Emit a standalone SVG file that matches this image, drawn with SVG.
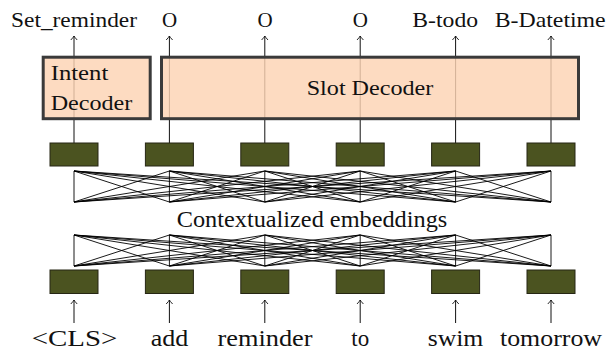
<svg xmlns="http://www.w3.org/2000/svg" width="609" height="351" viewBox="0 0 609 351">
<defs>
<style>
text{font-family:"Liberation Serif",serif;fill:#111;}
.top{font-size:21px;text-anchor:middle;}
.bot{font-size:23px;text-anchor:middle;}
.mid{font-size:23px;text-anchor:middle;}
.dec{font-size:21px;}
.emb{fill:#4b5320;stroke:#262614;stroke-width:1;}
.decbox{fill:#fdd3b3;fill-opacity:0.82;stroke:#3a3a3a;stroke-width:3;}
.arr{stroke:#111;stroke-width:1;fill:none;marker-end:url(#ah);}
.x line{stroke:#000;stroke-width:0.9;}
</style>
<marker id="ah" markerUnits="userSpaceOnUse" markerWidth="10" markerHeight="10" viewBox="-5 -5 10 10" refX="0" refY="0" orient="auto">
<path d="M-4,-3.2 Q-1.2,-0.6 0,0 Q-1.2,0.6 -4,3.2" fill="none" stroke="#111" stroke-width="0.9"/>
</marker>
</defs>
<rect width="609" height="351" fill="#fff"/>

<g id="connectors">
<g class="arrows-up">
<line class="arr" x1="74" y1="143" x2="74" y2="36"/>
<line class="arr" x1="169.4" y1="143" x2="169.4" y2="36"/>
<line class="arr" x1="264.8" y1="143" x2="264.8" y2="36"/>
<line class="arr" x1="360.2" y1="143" x2="360.2" y2="36"/>
<line class="arr" x1="455.6" y1="143" x2="455.6" y2="36"/>
<line class="arr" x1="551" y1="143" x2="551" y2="36"/>
<line class="arr" x1="74" y1="323" x2="74" y2="300"/>
<line class="arr" x1="169.4" y1="323" x2="169.4" y2="300"/>
<line class="arr" x1="264.8" y1="323" x2="264.8" y2="300"/>
<line class="arr" x1="360.2" y1="323" x2="360.2" y2="300"/>
<line class="arr" x1="455.6" y1="323" x2="455.6" y2="300"/>
<line class="arr" x1="551" y1="323" x2="551" y2="300"/>
</g>
<g class="x" id="cross-top">
<line x1="74" y1="171" x2="74" y2="202"/><line x1="74" y1="171" x2="169.4" y2="202"/><line x1="74" y1="171" x2="264.8" y2="202"/><line x1="74" y1="171" x2="360.2" y2="202"/><line x1="74" y1="171" x2="455.6" y2="202"/><line x1="74" y1="171" x2="551" y2="202"/>
<line x1="169.4" y1="171" x2="74" y2="202"/><line x1="169.4" y1="171" x2="169.4" y2="202"/><line x1="169.4" y1="171" x2="264.8" y2="202"/><line x1="169.4" y1="171" x2="360.2" y2="202"/><line x1="169.4" y1="171" x2="455.6" y2="202"/><line x1="169.4" y1="171" x2="551" y2="202"/>
<line x1="264.8" y1="171" x2="74" y2="202"/><line x1="264.8" y1="171" x2="169.4" y2="202"/><line x1="264.8" y1="171" x2="264.8" y2="202"/><line x1="264.8" y1="171" x2="360.2" y2="202"/><line x1="264.8" y1="171" x2="455.6" y2="202"/><line x1="264.8" y1="171" x2="551" y2="202"/>
<line x1="360.2" y1="171" x2="74" y2="202"/><line x1="360.2" y1="171" x2="169.4" y2="202"/><line x1="360.2" y1="171" x2="264.8" y2="202"/><line x1="360.2" y1="171" x2="360.2" y2="202"/><line x1="360.2" y1="171" x2="455.6" y2="202"/><line x1="360.2" y1="171" x2="551" y2="202"/>
<line x1="455.6" y1="171" x2="74" y2="202"/><line x1="455.6" y1="171" x2="169.4" y2="202"/><line x1="455.6" y1="171" x2="264.8" y2="202"/><line x1="455.6" y1="171" x2="360.2" y2="202"/><line x1="455.6" y1="171" x2="455.6" y2="202"/><line x1="455.6" y1="171" x2="551" y2="202"/>
<line x1="551" y1="171" x2="74" y2="202"/><line x1="551" y1="171" x2="169.4" y2="202"/><line x1="551" y1="171" x2="264.8" y2="202"/><line x1="551" y1="171" x2="360.2" y2="202"/><line x1="551" y1="171" x2="455.6" y2="202"/><line x1="551" y1="171" x2="551" y2="202"/>
</g>
<g class="x" id="cross-bottom">
<line x1="74" y1="235" x2="74" y2="266"/><line x1="74" y1="235" x2="169.4" y2="266"/><line x1="74" y1="235" x2="264.8" y2="266"/><line x1="74" y1="235" x2="360.2" y2="266"/><line x1="74" y1="235" x2="455.6" y2="266"/><line x1="74" y1="235" x2="551" y2="266"/>
<line x1="169.4" y1="235" x2="74" y2="266"/><line x1="169.4" y1="235" x2="169.4" y2="266"/><line x1="169.4" y1="235" x2="264.8" y2="266"/><line x1="169.4" y1="235" x2="360.2" y2="266"/><line x1="169.4" y1="235" x2="455.6" y2="266"/><line x1="169.4" y1="235" x2="551" y2="266"/>
<line x1="264.8" y1="235" x2="74" y2="266"/><line x1="264.8" y1="235" x2="169.4" y2="266"/><line x1="264.8" y1="235" x2="264.8" y2="266"/><line x1="264.8" y1="235" x2="360.2" y2="266"/><line x1="264.8" y1="235" x2="455.6" y2="266"/><line x1="264.8" y1="235" x2="551" y2="266"/>
<line x1="360.2" y1="235" x2="74" y2="266"/><line x1="360.2" y1="235" x2="169.4" y2="266"/><line x1="360.2" y1="235" x2="264.8" y2="266"/><line x1="360.2" y1="235" x2="360.2" y2="266"/><line x1="360.2" y1="235" x2="455.6" y2="266"/><line x1="360.2" y1="235" x2="551" y2="266"/>
<line x1="455.6" y1="235" x2="74" y2="266"/><line x1="455.6" y1="235" x2="169.4" y2="266"/><line x1="455.6" y1="235" x2="264.8" y2="266"/><line x1="455.6" y1="235" x2="360.2" y2="266"/><line x1="455.6" y1="235" x2="455.6" y2="266"/><line x1="455.6" y1="235" x2="551" y2="266"/>
<line x1="551" y1="235" x2="74" y2="266"/><line x1="551" y1="235" x2="169.4" y2="266"/><line x1="551" y1="235" x2="264.8" y2="266"/><line x1="551" y1="235" x2="360.2" y2="266"/><line x1="551" y1="235" x2="455.6" y2="266"/><line x1="551" y1="235" x2="551" y2="266"/>
</g>
</g>

<g id="intent-decoder">
<rect class="decbox" x="43.2" y="57.2" width="107" height="61.5"/>
<text class="dec" font-family="Liberation Serif" x="50.7" y="80" textLength="57.6" lengthAdjust="spacingAndGlyphs">Intent</text>
<text class="dec" font-family="Liberation Serif" x="50.7" y="110" textLength="81.6" lengthAdjust="spacingAndGlyphs">Decoder</text>
</g>
<g id="slot-decoder">
<rect class="decbox" x="161.5" y="57.2" width="417" height="61.5"/>
<text class="dec" x="306.7" y="95" textLength="126.7" lengthAdjust="spacingAndGlyphs">Slot Decoder</text>
</g>

<g id="top-embeddings">
<rect class="emb" x="50" y="143" width="48" height="23"/>
<rect class="emb" x="145.4" y="143" width="48" height="23"/>
<rect class="emb" x="240.8" y="143" width="48" height="23"/>
<rect class="emb" x="336.2" y="143" width="48" height="23"/>
<rect class="emb" x="431.6" y="143" width="48" height="23"/>
<rect class="emb" x="527" y="143" width="48" height="23"/>
</g>
<g id="bottom-embeddings">
<rect class="emb" x="50" y="270" width="48" height="23.5"/>
<rect class="emb" x="145.4" y="270" width="48" height="23.5"/>
<rect class="emb" x="240.8" y="270" width="48" height="23.5"/>
<rect class="emb" x="336.2" y="270" width="48" height="23.5"/>
<rect class="emb" x="431.6" y="270" width="48" height="23.5"/>
<rect class="emb" x="527" y="270" width="48" height="23.5"/>
</g>

<g id="contextualized-label">
<text class="mid" x="312" y="226.5" textLength="270.6" lengthAdjust="spacingAndGlyphs">Contextualized embeddings</text>
</g>

<g id="output-labels">
<text class="top" x="74" y="27" textLength="126" lengthAdjust="spacingAndGlyphs">Set_reminder</text>
<text class="top" x="169.7" y="27">O</text>
<text class="top" x="265" y="27">O</text>
<text class="top" x="360.4" y="27">O</text>
<text class="top" x="445.2" y="27" textLength="65.7" lengthAdjust="spacingAndGlyphs">B-todo</text>
<text class="top" x="550.2" y="27" textLength="111" lengthAdjust="spacingAndGlyphs">B-Datetime</text>
</g>

<g id="input-labels">
<text class="bot" x="74.5" y="345.5" textLength="85.6" lengthAdjust="spacingAndGlyphs">&lt;CLS&gt;</text>
<text class="bot" x="169.5" y="345.5" textLength="37.6" lengthAdjust="spacingAndGlyphs">add</text>
<text class="bot" x="265" y="345.5" textLength="95" lengthAdjust="spacingAndGlyphs">reminder</text>
<text class="bot" x="360.2" y="345.5">to</text>
<text class="bot" x="455.5" y="345.5" textLength="55.6" lengthAdjust="spacingAndGlyphs">swim</text>
<text class="bot" x="551" y="345.5" textLength="102" lengthAdjust="spacingAndGlyphs">tomorrow</text>
</g>
</svg>
